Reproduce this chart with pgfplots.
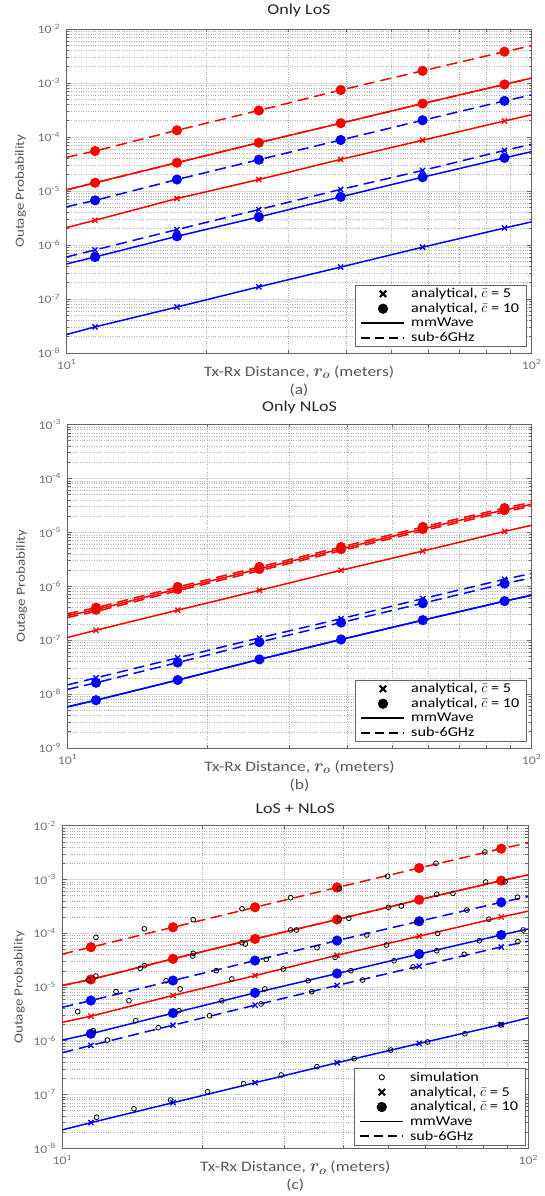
\documentclass[border=0pt]{standalone}
\usepackage{fontspec}
\setmainfont{Carlito}[FakeStretch=1.2]
\usepackage{pgfplots}
\pgfplotsset{compat=1.18}
\tikzset{
  solidln/.style={line width=1.5pt},
  dashln/.style={line width=1.5pt, dash pattern=on 11pt off 6pt},
  mkx/.style={mark=x, mark size=3.6pt, mark options={solid, line width=1.3pt}, mark indices={2,3,4,5,6,7}},
  mkc/.style={mark=*, mark size=4.3pt, mark options={solid}, mark indices={2,3,4,5,6,7}},
}
\newcommand{\tl}{10\textsuperscript{\pgfmathparse{int(round(\tick))}\pgfmathresult}}
\newcommand{\ro}{{\fontsize{17}{17}\selectfont\boldmath$r_o$}}
\begin{document}
\begin{tikzpicture}
\path (0,0) rectangle (544pt,1196pt);
\begin{scope}[overlay]
% ---------------- (a) Only LoS
\begin{axis}[at={(66.5pt,1167pt)}, anchor=north west, width=465pt, height=324pt,
  scale only axis, xmode=log, ymode=log, log basis x=10, log basis y=10,
  xmin=10, xmax=100, ymin=1e-8, ymax=1e-2,
  xtick={10,100}, minor xtick={20,30,40,50,60,70,80,90},
  xticklabels={10\textsuperscript{1},10\textsuperscript{2}},
  grid=both,
  major grid style={black!14, line width=0.6pt},
  minor grid style={black!30, dotted, line width=0.5pt},
  axis line style={black!60, line width=0.7pt},
  tick style={black!60, line width=0.6pt},
  major tick length=5pt, minor tick length=3pt,
  yticklabel={\tl},
  tick label style={font=\fontsize{11.5}{13}\selectfont, text=black!55},
  yticklabel style={xshift=-3pt}, xticklabel style={yshift=-3pt},
  ylabel={Outage Probability},
  ylabel style={at={(axis description cs:0,0.5)}, anchor=center, yshift=46pt, font=\fontsize{12.5}{15}\selectfont, text=black!65},
  xlabel={Tx-Rx Distance, \ro{} (meters)\\(a)},
  xlabel style={at={(axis description cs:0.5,0)}, anchor=north, yshift=-9pt, align=center, font=\fontsize{14.5}{18}\selectfont, text=black!65},
  title={Only LoS},
  title style={at={(axis description cs:0.5,1)}, anchor=south, yshift=3pt, font=\fontsize{15}{17}\selectfont, text=black!85},
  legend style={at={(1,0)}, anchor=south east, xshift=-5pt, yshift=6pt, draw=black!60, line width=0.6pt,
      font=\fontsize{13.5}{14}\selectfont, row sep=0pt, inner xsep=5pt, inner ysep=1.5pt, cells={anchor=west},
      /tikz/every odd column/.append style={column sep=4pt}},
  legend image code/.code={\draw[mark repeat=2,mark phase=2,#1] plot coordinates {(0pt,0pt) (21.5pt,0pt) (43pt,0pt)};},
  ]
\addplot[forget plot, red, dashln, mkc] coordinates {(10,4.2e-5)(11.52,5.5e-5)(17.28,1.33e-4)(25.92,3.1e-4)(38.88,7.4e-4)(58.32,1.68e-3)(87.48,3.8e-3)(100,4.9e-3)};
\addplot[forget plot, red, solidln, mkc] coordinates {(10,1.05e-5)(11.52,1.42e-5)(17.28,3.34e-5)(25.92,7.85e-5)(38.88,1.8e-4)(58.32,4.16e-4)(87.48,9.4e-4)(100,1.23e-3)};
\addplot[forget plot, red, dashln, mkx] coordinates {(10,1.05e-5)(11.52,1.42e-5)(17.28,3.34e-5)(25.92,7.85e-5)(38.88,1.8e-4)(58.32,4.16e-4)(87.48,9.4e-4)(100,1.23e-3)};
\addplot[forget plot, red, solidln, mkx] coordinates {(10,2.1e-6)(11.52,2.87e-6)(17.28,7.25e-6)(25.92,1.63e-5)(38.88,3.85e-5)(58.32,8.7e-5)(87.48,1.98e-4)(100,2.58e-4)};
\addplot[forget plot, blue, dashln, mkc] coordinates {(10,5.1e-6)(11.52,6.7e-6)(17.28,1.63e-5)(25.92,3.8e-5)(38.88,8.8e-5)(58.32,2.04e-4)(87.48,4.66e-4)(100,6.0e-4)};
\addplot[forget plot, blue, dashln, mkx] coordinates {(10,6.0e-7)(11.52,8.1e-7)(17.28,1.93e-6)(25.92,4.53e-6)(38.88,1.07e-5)(58.32,2.4e-5)(87.48,5.65e-5)(100,7.3e-5)};
\addplot[forget plot, blue, solidln, mkc] coordinates {(10,4.45e-7)(11.52,6.0e-7)(17.28,1.45e-6)(25.92,3.3e-6)(38.88,7.8e-6)(58.32,1.8e-5)(87.48,4.1e-5)(100,5.35e-5)};
\addplot[forget plot, blue, solidln, mkx] coordinates {(10,2.2e-8)(11.52,3.04e-8)(17.28,7.1e-8)(25.92,1.68e-7)(38.88,3.9e-7)(58.32,9.1e-7)(87.48,2.06e-6)(100,2.68e-6)};
\addlegendimage{only marks, mark=x, black, mark size=4.5pt, line width=2pt}
\addlegendentry{analytical, $\bar{c}$ = 5}
\addlegendimage{only marks, mark=*, black, mark size=4.8pt}
\addlegendentry{analytical, $\bar{c}$ = 10}
\addlegendimage{black, line width=1.5pt}
\addlegendentry{mmWave}
\addlegendimage{black, line width=1.5pt, dash pattern=on 9pt off 5pt}
\addlegendentry{sub-6GHz}
\end{axis}
% ---------------- (b) Only NLoS
\begin{axis}[at={(67.5pt,771.5pt)}, anchor=north west, width=464pt, height=323.5pt,
  scale only axis, xmode=log, ymode=log, log basis x=10, log basis y=10,
  xmin=10, xmax=100, ymin=1e-9, ymax=1e-3,
  xtick={10,100}, minor xtick={20,30,40,50,60,70,80,90},
  xticklabels={10\textsuperscript{1},10\textsuperscript{2}},
  grid=both,
  major grid style={black!14, line width=0.6pt},
  minor grid style={black!30, dotted, line width=0.5pt},
  axis line style={black!60, line width=0.7pt},
  tick style={black!60, line width=0.6pt},
  major tick length=5pt, minor tick length=3pt,
  yticklabel={\tl},
  tick label style={font=\fontsize{11.5}{13}\selectfont, text=black!55},
  yticklabel style={xshift=-3pt}, xticklabel style={yshift=-3pt},
  ylabel={Outage Probability},
  ylabel style={at={(axis description cs:0,0.5)}, anchor=center, yshift=46pt, font=\fontsize{12.5}{15}\selectfont, text=black!65},
  xlabel={Tx-Rx Distance, \ro{} (meters)\\(b)},
  xlabel style={at={(axis description cs:0.5,0)}, anchor=north, yshift=-9pt, align=center, font=\fontsize{14.5}{18}\selectfont, text=black!65},
  title={Only NLoS},
  title style={at={(axis description cs:0.5,1)}, anchor=south, yshift=1pt, font=\fontsize{15}{17}\selectfont, text=black!85},
  legend style={at={(1,0)}, anchor=south east, xshift=-5pt, yshift=6pt, draw=black!60, line width=0.6pt,
      font=\fontsize{13.5}{14}\selectfont, row sep=0pt, inner xsep=5pt, inner ysep=1.5pt, cells={anchor=west},
      /tikz/every odd column/.append style={column sep=4pt}},
  legend image code/.code={\draw[mark repeat=2,mark phase=2,#1] plot coordinates {(0pt,0pt) (21.5pt,0pt) (43pt,0pt)};},
  ]
\addplot[forget plot, red, dashln, mkc] coordinates {(10,3.1e-7)(11.52,4.0e-7)(17.28,9.7e-7)(25.92,2.28e-6)(38.88,5.35e-6)(58.32,1.26e-5)(87.48,2.82e-5)(100,3.6e-5)};
\addplot[forget plot, red, solidln, mkc] coordinates {(10,2.85e-7)(11.52,3.68e-7)(17.28,8.9e-7)(25.92,2.1e-6)(38.88,4.92e-6)(58.32,1.16e-5)(87.48,2.6e-5)(100,3.3e-5)};
\addplot[forget plot, red, dashln, mkx] coordinates {(10,2.64e-7)(11.52,3.4e-7)(17.28,8.25e-7)(25.92,1.94e-6)(38.88,4.55e-6)(58.32,1.07e-5)(87.48,2.4e-5)(100,3.06e-5)};
\addplot[forget plot, red, solidln, mkx] coordinates {(10,1.12e-7)(11.52,1.53e-7)(17.28,3.6e-7)(25.92,8.4e-7)(38.88,1.98e-6)(58.32,4.5e-6)(87.48,1.04e-5)(100,1.35e-5)};
\addplot[forget plot, blue, dashln, mkx] coordinates {(10,1.48e-8)(11.52,2.0e-8)(17.28,4.7e-8)(25.92,1.1e-7)(38.88,2.5e-7)(58.32,5.9e-7)(87.48,1.35e-6)(100,1.72e-6)};
\addplot[forget plot, blue, dashln, mkc] coordinates {(10,1.22e-8)(11.52,1.62e-8)(17.28,3.85e-8)(25.92,9.2e-8)(38.88,2.12e-7)(58.32,4.84e-7)(87.48,1.12e-6)(100,1.43e-6)};
\addplot[forget plot, blue, solidln, mkc] coordinates {(10,5.8e-9)(11.52,7.7e-9)(17.28,1.82e-8)(25.92,4.4e-8)(38.88,1.03e-7)(58.32,2.35e-7)(87.48,5.3e-7)(100,6.8e-7)};
\addplot[forget plot, blue, solidln, mkx] coordinates {(10,5.8e-9)(11.52,7.7e-9)(17.28,1.82e-8)(25.92,4.4e-8)(38.88,1.03e-7)(58.32,2.35e-7)(87.48,5.3e-7)(100,6.8e-7)};
\addlegendimage{only marks, mark=x, black, mark size=4.5pt, line width=2pt}
\addlegendentry{analytical, $\bar{c}$ = 5}
\addlegendimage{only marks, mark=*, black, mark size=4.8pt}
\addlegendentry{analytical, $\bar{c}$ = 10}
\addlegendimage{black, line width=1.5pt}
\addlegendentry{mmWave}
\addlegendimage{black, line width=1.5pt, dash pattern=on 9pt off 5pt}
\addlegendentry{sub-6GHz}
\end{axis}
% ---------------- (c) LoS + NLoS
\begin{axis}[at={(62.3pt,370.3pt)}, anchor=north west, width=466pt, height=322.6pt,
  scale only axis, xmode=log, ymode=log, log basis x=10, log basis y=10,
  xmin=10, xmax=100, ymin=1e-8, ymax=1e-2,
  xtick={10,100}, minor xtick={20,30,40,50,60,70,80,90},
  xticklabels={10\textsuperscript{1},10\textsuperscript{2}},
  grid=both,
  major grid style={black!14, line width=0.6pt},
  minor grid style={black!30, dotted, line width=0.5pt},
  axis line style={black!60, line width=0.7pt},
  tick style={black!60, line width=0.6pt},
  major tick length=5pt, minor tick length=3pt,
  yticklabel={\tl},
  tick label style={font=\fontsize{11.5}{13}\selectfont, text=black!55},
  yticklabel style={xshift=-3pt}, xticklabel style={yshift=-3pt},
  ylabel={Outage Probability},
  ylabel style={at={(axis description cs:0,0.5)}, anchor=center, yshift=43pt, font=\fontsize{12.5}{15}\selectfont, text=black!65},
  xlabel={Tx-Rx Distance, \ro{} (meters)\\(c)},
  xlabel style={at={(axis description cs:0.5,0)}, anchor=north, yshift=-9pt, align=center, font=\fontsize{14.5}{18}\selectfont, text=black!65},
  title={LoS + NLoS},
  title style={at={(axis description cs:0.5,1)}, anchor=south, yshift=3pt, font=\fontsize{15}{17}\selectfont, text=black!85},
  legend style={at={(1,0)}, anchor=south east, xshift=-3pt, yshift=3pt, draw=black!60, line width=0.6pt,
      font=\fontsize{13.5}{14}\selectfont, row sep=0pt, inner xsep=5pt, inner ysep=1.5pt, cells={anchor=west},
      /tikz/every odd column/.append style={column sep=4pt}},
  legend image code/.code={\draw[mark repeat=2,mark phase=2,#1] plot coordinates {(0pt,0pt) (21.5pt,0pt) (43pt,0pt)};},
  ]
\addplot[forget plot, red, dashln, mkc] coordinates {(10,4.1e-5)(11.52,5.5e-5)(17.28,1.29e-4)(25.92,3.04e-4)(38.88,7.1e-4)(58.32,1.63e-3)(87.48,3.74e-3)(100,4.8e-3)};
\addplot[forget plot, red, solidln, mkc] coordinates {(10,1.07e-5)(11.52,1.38e-5)(17.28,3.34e-5)(25.92,7.85e-5)(38.88,1.8e-4)(58.32,4.2e-4)(87.48,9.5e-4)(100,1.22e-3)};
\addplot[forget plot, red, dashln, mkx] coordinates {(10,1.07e-5)(11.52,1.38e-5)(17.28,3.34e-5)(25.92,7.85e-5)(38.88,1.8e-4)(58.32,4.2e-4)(87.48,9.5e-4)(100,1.22e-3)};
\addplot[forget plot, red, solidln, mkx] coordinates {(10,2.2e-6)(11.52,2.87e-6)(17.28,6.95e-6)(25.92,1.63e-5)(38.88,3.9e-5)(58.32,8.8e-5)(87.48,2.0e-4)(100,2.58e-4)};
\addplot[forget plot, blue, dashln, mkc] coordinates {(10,4.2e-6)(11.52,5.6e-6)(17.28,1.32e-5)(25.92,3.1e-5)(38.88,7.3e-5)(58.32,1.67e-4)(87.48,3.76e-4)(100,4.8e-4)};
\addplot[forget plot, blue, solidln, mkc] coordinates {(10,1.03e-6)(11.52,1.35e-6)(17.28,3.27e-6)(25.92,7.8e-6)(38.88,1.78e-5)(58.32,4.1e-5)(87.48,9.3e-5)(100,1.2e-4)};
\addplot[forget plot, blue, dashln, mkx] coordinates {(10,6.0e-7)(11.52,8.2e-7)(17.28,1.95e-6)(25.92,4.6e-6)(38.88,1.07e-5)(58.32,2.44e-5)(87.48,5.57e-5)(100,7.1e-5)};
\addplot[forget plot, blue, solidln, mkx] coordinates {(10,2.2e-8)(11.52,3.0e-8)(17.28,7.05e-8)(25.92,1.66e-7)(38.88,3.9e-7)(58.32,8.9e-7)(87.48,2.0e-6)(100,2.67e-6)};
\addplot[forget plot, only marks, mark=o, mark size=2.4pt, black, line width=0.8pt] coordinates {
(11.81,8.4e-5)(15.0,1.21e-4)(19.1,1.79e-4)(24.3,2.86e-4)(30.9,4.58e-4)(39.3,6.73e-4)(49.9,1.15e-3)(63.4,2.0e-3)(80.7,3.24e-3)
(11.37,1.35e-5)(11.8,1.6e-5)(14.7,2.23e-5)(15.0,2.49e-5)(19.05,3.77e-5)(19.1,4.23e-5)(24.3,6.67e-5)(24.7,6.3e-5)(30.9,1.15e-4)(31.8,1.15e-4)(39.3,1.82e-4)(41.2,1.9e-4)(50.1,3.03e-4)(53.4,3.21e-4)(63.6,5.3e-4)(68.9,5.53e-4)(81.0,8.97e-4)(89.2,9.1e-4)
(10.79,3.47e-6)(13.9,5.56e-6)(17.9,9.2e-6)(23.1,1.41e-5)(29.8,2.16e-5)(38.5,3.56e-5)(49.6,6.04e-5)(63.9,9.97e-5)(82.3,1.82e-4)
(13.04,8.2e-6)(16.7,1.31e-5)(21.4,2.01e-5)(27.4,3.27e-5)(35.2,5.38e-5)(45.0,9.27e-5)(57.6,1.6e-4)(73.8,2.7e-4)(94.8,4.67e-4)
(11.66,1.54e-6)(14.37,2.36e-6)(17.8,3.62e-6)(22.0,5.56e-6)(27.2,9.2e-6)(33.7,1.31e-5)(41.6,2.01e-5)(51.5,3.08e-5)(63.6,4.73e-5)(78.5,7.27e-5)(97.5,1.15e-4)
(12.5,1.03e-6)(16.07,1.75e-6)(20.7,2.92e-6)(26.7,4.83e-6)(34.3,8.18e-6)(44.1,1.35e-5)(56.6,2.36e-5)(72.9,4.06e-5)(95,7.0e-5)
(11.85,3.78e-8)(14.25,5.46e-8)(17.08,7.9e-8)(20.5,1.13e-7)(24.5,1.59e-7)(29.5,2.31e-7)(35.2,3.3e-7)(42.3,4.65e-7)(50.7,6.73e-7)(60.8,9.49e-7)(73.1,1.35e-6)(87.3,1.97e-6)
};
\addlegendimage{only marks, mark=o, black, mark size=2.6pt, line width=0.9pt}
\addlegendentry{simulation}
\addlegendimage{only marks, mark=x, black, mark size=4.5pt, line width=2pt}
\addlegendentry{analytical, $\bar{c}$ = 5}
\addlegendimage{only marks, mark=*, black, mark size=4.8pt}
\addlegendentry{analytical, $\bar{c}$ = 10}
\addlegendimage{black, line width=1.5pt}
\addlegendentry{mmWave}
\addlegendimage{black, line width=1.5pt, dash pattern=on 9pt off 5pt}
\addlegendentry{sub-6GHz}
\end{axis}
\end{scope}
\end{tikzpicture}
\end{document}
